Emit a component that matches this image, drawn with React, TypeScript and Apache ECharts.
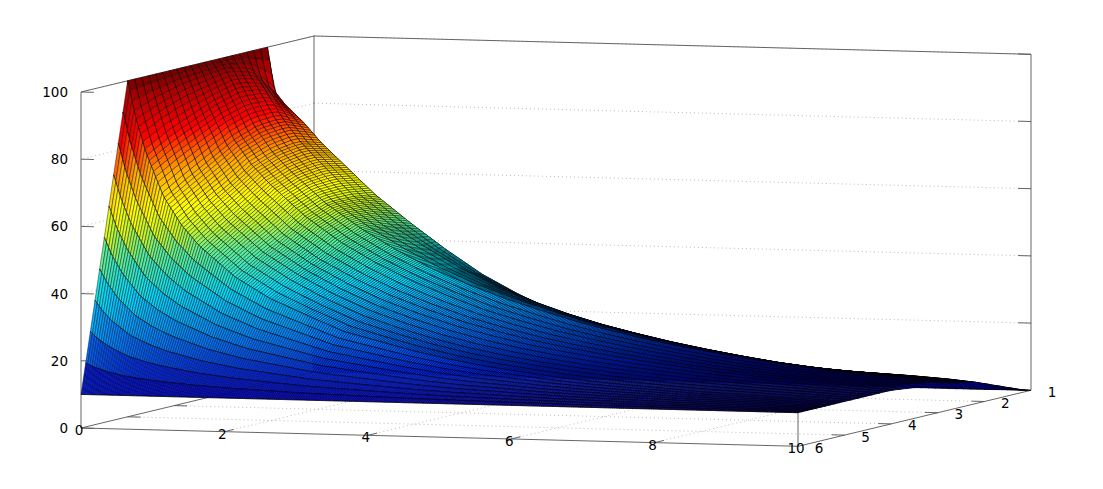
import React, { useEffect, useRef } from "react";
import * as echarts from "echarts";

// Tick labels
const xTicks = [0, 2, 4, 6, 8, 10];
const yTicks = [1, 2, 3, 4, 5, 6];
const zTicks = [0, 20, 40, 60, 80, 100];

// Surface heights at these knots.
const xKnots = [0, 0.1, 0.25, 0.5, 0.75, 1, 1.5, 2, 2.5, 3, 3.5, 4, 4.5, 5, 5.5, 6, 6.5, 7, 7.5, 8, 8.5, 9, 9.5, 9.9, 10];
const yKnots = [1, 1.5, 2, 2.5, 3, 3.5, 4, 4.5, 5, 5.5, 6];
const zAtY1 = [0, 0, 0, 0, 0, 0, 0, 0, 0, 0, 0, 0, 0, 0, 0, 0, 0, 0, 0, 0, 0, 0, 0, 0, 0];
const zAtY1p5 = [50, 43, 41, 38, 35.5, 33, 28, 24, 20, 17, 14, 12, 10, 8.3, 7, 5.9, 5.2, 4.7, 4.3, 4, 3.8, 3.6, 3.2, 2.8, 1.8];
const zAtY2 = [100, 87, 83, 78, 72, 67, 57, 48.7, 41, 34, 28.4, 23.7, 19.8, 16.5, 13.8, 11.6, 10.4, 9.3, 8.4, 8, 7.6, 7.1, 6.4, 5.6, 3.6];
const zAtY2p5 = [100, 95, 90, 81, 74, 68.5, 58, 50, 43.5, 37.5, 32.5, 28.5, 25, 22, 19.5, 17.2, 15.2, 13.4, 11.8, 10.6, 9.7, 9, 8.2, 7, 5.4];
const zAtY3 = [100, 97, 91, 80.5, 73, 67.5, 58, 50.7, 44.5, 39.2, 34.8, 31, 27.7, 24.6, 22, 19.7, 17.7, 16, 14.4, 13, 11.8, 11, 10.2, 8.8, 7.3];
const zAtY3p5 = [100, 96, 89, 78, 70.5, 65, 55.5, 48, 42, 37, 32.8, 29, 26, 23.3, 21, 19, 17.2, 15.6, 14.2, 13, 12, 11.2, 10.5, 10, 9.1];
const zAtY4 = [100, 95, 86, 74, 66, 60.5, 51, 44, 38.5, 33.8, 30, 26.7, 24, 21.6, 19.7, 18, 16.5, 15.2, 14, 13, 12.2, 11.4, 10.7, 10.1, 10];
const zAtY4p5 = [100, 93, 83, 70, 62, 56, 47, 40.5, 35, 30.5, 27, 24, 21.5, 19.5, 17.8, 16.4, 15.2, 14.2, 13.2, 12.5, 11.8, 11.2, 10.6, 10.1, 10];
const zAtY5 = [100, 90, 79, 65.8, 57.5, 51.4, 42.4, 36.1, 31.6, 27.1, 24.4, 21.7, 19.5, 17.7, 16.3, 15, 14, 13.2, 12.5, 11.8, 11.4, 10.9, 10.5, 10.1, 10];
const zAtY5p5 = [55, 50, 44.5, 37.9, 33.8, 30.7, 26.2, 23, 20.8, 18.6, 17.2, 15.9, 14.7, 13.8, 13.2, 12.5, 12, 11.6, 11.3, 10.9, 10.7, 10.5, 10.2, 10, 10];
const zAtY6 = [10, 10, 10, 10, 10, 10, 10, 10, 10, 10, 10, 10, 10, 10, 10, 10, 10, 10, 10, 10, 10, 10, 10, 10, 10];
const zGrid = [zAtY1, zAtY1p5, zAtY2, zAtY2p5, zAtY3, zAtY3p5, zAtY4, zAtY4p5, zAtY5, zAtY5p5, zAtY6];

// Palette stops: height and colour
const paletteZ = [0, 10, 17, 25, 38, 50, 56, 62, 72, 83, 95, 100];
const paletteC = [
  [0, 0, 120], [0, 0, 190], [0, 40, 230], [0, 120, 255], [0, 220, 255], [100, 240, 140],
  [200, 245, 40], [255, 255, 0], [255, 170, 0], [255, 0, 0], [170, 0, 0], [110, 0, 0],
];

// Orthographic view of the gnuplot box
const project = (x: number, y: number, z: number): [number, number] => [
  81 + 71.7 * x + 46.6 * (6 - y),
  428 + 1.83 * x - 11.2 * (6 - y) - 3.36 * z,
];

// The facets below are a drawing of the mesh between the knots above: the height of a
// facet corner is blended from the four surrounding knots, only to reproduce the hatching.
const heightAt = (x: number, y: number) => {
  let i = 0;
  while (i < xKnots.length - 2 && x > xKnots[i + 1]) i++;
  const j = Math.min(yKnots.length - 2, Math.floor((y - 1) / 0.5));
  const u = (x - xKnots[i]) / (xKnots[i + 1] - xKnots[i]);
  const v = (y - yKnots[j]) / (yKnots[j + 1] - yKnots[j]);
  const a = zGrid[j][i] * (1 - u) + zGrid[j][i + 1] * u;
  const b = zGrid[j + 1][i] * (1 - u) + zGrid[j + 1][i + 1] * u;
  return a * (1 - v) + b * v;
};

const colorAt = (z: number) => {
  let k = 0;
  while (k < paletteZ.length - 2 && z > paletteZ[k + 1]) k++;
  const t = Math.max(0, Math.min(1, (z - paletteZ[k]) / (paletteZ[k + 1] - paletteZ[k])));
  const c = paletteC[k].map((a, n) => Math.round(a + (paletteC[k + 1][n] - a) * t));
  return `rgb(${c[0]},${c[1]},${c[2]})`;
};

const meshY: number[] = [];
for (let n = 0; n < 4; n++) meshY.push(1 + n * 0.25);
for (let n = 0; n < 20; n++) meshY.push(2 + n * 0.15);
for (let n = 0; n <= 10; n++) meshY.push(5 + n * 0.1);
const meshX: number[] = [];
for (let n = 0; n <= 333; n++) meshX.push(Math.min(10, n * 0.03));
meshX.push(10);

const AXIS = "#555";
const GRID = "#aaa";
const seg = (a: [number, number], b: [number, number], stroke = AXIS, dash?: number[], lineWidth = 0.9) => ({
  type: "line",
  shape: { x1: a[0], y1: a[1], x2: b[0], y2: b[1] },
  style: { stroke, lineWidth, lineDash: dash },
  silent: true,
});
const label = (text: string, p: [number, number], align: string) => ({
  type: "text",
  x: p[0],
  y: p[1],
  style: { text, fill: "#000", font: '13.5px "DejaVu Sans"', align, verticalAlign: "middle" },
  silent: true,
});

function frame() {
  const c: any[] = [];
  const D = [1, 3];
  zTicks.forEach((z) => {
    if (z > 0) {
      c.push(seg(project(0, 1, z), project(0, 6, z), GRID, D, 0.8));
      c.push(seg(project(0, 1, z), project(10, 1, z), GRID, D, 0.8));
    }
  });
  xTicks.slice(1, -1).forEach((x) => c.push(seg(project(x, 6, 0), project(x, 1, 0), GRID, D, 0.8)));
  yTicks.slice(1, -1).forEach((y) => c.push(seg(project(0, y, 0), project(10, y, 0), GRID, D, 0.8)));
  c.push(seg(project(0, 6, 0), project(10, 6, 0)));
  c.push(seg(project(10, 6, 0), project(10, 1, 0)));
  c.push(seg(project(0, 6, 0), project(0, 1, 0)));
  c.push(seg(project(0, 6, 0), project(0, 6, 100)));
  c.push(seg(project(0, 1, 0), project(0, 1, 100)));
  c.push(seg(project(10, 1, 0), project(10, 1, 100)));
  c.push(seg(project(10, 6, 0), project(10, 6, 10)));
  c.push(seg(project(0, 6, 100), project(0, 1, 100)));
  c.push(seg(project(0, 1, 100), project(10, 1, 100)));
  zTicks.forEach((z) => {
    c.push(seg(project(0, 6, z), project(0.18, 6, z)));
    c.push(seg(project(10, 1, z), project(9.82, 1, z)));
    const p = project(0, 6, z);
    c.push(label(String(z), [p[0] - 13, p[1]], "right"));
  });
  xTicks.forEach((x) => {
    if (x > 0 && x < 10) c.push(seg(project(x, 6, 0), project(x, 5.8, 0)));
    const p = project(x, 6, 0);
    c.push(label(String(x), [p[0] - 2, p[1] + 2], "center"));
  });
  yTicks.forEach((y) => {
    if (y > 1 && y < 6) {
      c.push(seg(project(10, y, 0), project(9.82, y, 0)));
      c.push(seg(project(0, y, 0), project(0.18, y, 0)));
    }
    const p = project(10, y, 0);
    c.push(label(String(y), [p[0] + 21, p[1] + 1.5], "center"));
  });
  return { type: "group", children: c };
}

function strip(j: number) {
  const children: any[] = [];
  const y0 = meshY[j];
  const y1 = meshY[j + 1];
  for (let i = 0; i < meshX.length - 1; i++) {
    const x0 = meshX[i];
    const x1 = meshX[i + 1];
    if (x1 <= x0) continue;
    const z00 = heightAt(x0, y0);
    const z10 = heightAt(x1, y0);
    const z11 = heightAt(x1, y1);
    const z01 = heightAt(x0, y1);
    children.push({
      type: "polygon",
      shape: { points: [project(x0, y0, z00), project(x1, y0, z10), project(x1, y1, z11), project(x0, y1, z01)] },
      style: { fill: colorAt((z00 + z10 + z11 + z01) / 4), stroke: "rgba(0,0,0,0.6)", lineWidth: 0.7 },
      silent: true,
    });
  }
  children.push({
    type: "polyline",
    shape: { points: meshX.filter((_, n) => n % 2 === 0 || n === meshX.length - 1).map((x) => project(x, y1, heightAt(x, y1))) },
    style: { stroke: "rgba(0,0,0,0.75)", lineWidth: 0.8, fill: "none" },
    silent: true,
  });
  return { type: "group", children };
}

export default function App() {
  const ref = useRef<HTMLDivElement>(null);
  useEffect(() => {
    document.body.style.margin = "0";
    const chart = echarts.init(ref.current!, undefined, { renderer: "svg" });
    chart.setOption({
      animation: false,
      backgroundColor: "#fff",
      tooltip: { show: false },
      series: [
        { type: "custom", coordinateSystem: "none", silent: true, z: 1, data: [0], renderItem: () => frame() },
        {
          type: "custom",
          coordinateSystem: "none",
          silent: true,
          z: 2,
          progressive: 0,
          data: meshY.slice(0, -1).map((_, j) => j),
          renderItem: (params: any) => strip(params.dataIndex),
        },
      ],
    });
    return () => chart.dispose();
  }, []);
  return <div ref={ref} style={{ position: "absolute", left: 0, top: 0, width: 1103, height: 489 }} />;
}
